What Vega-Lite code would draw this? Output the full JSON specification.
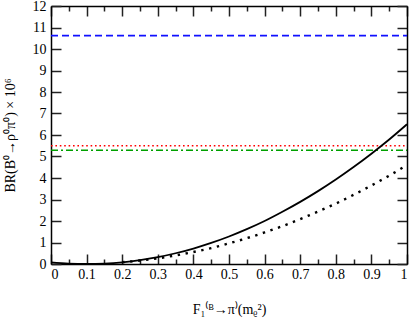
{
  "$schema": "https://vega.github.io/schema/vega-lite/v6.json",
  "width": 356,
  "height": 258,
  "autosize": {"type": "none"},
  "padding": {"left": 51, "top": 6, "right": 4, "bottom": 54},
  "background": "white",
  "config": {
    "view": {"stroke": null},
    "font": "Liberation Serif",
    "axis": {
      "labelFont": "Liberation Serif",
      "titleFont": "Liberation Serif",
      "labelFontSize": 14,
      "titleFontSize": 14,
      "labelColor": "black",
      "titleColor": "black",
      "titleFontWeight": "normal",
      "domainColor": "black",
      "domainWidth": 1.5,
      "grid": false
    }
  },
  "datasets": {
    "solid": [
      {"x": 0, "y": 0.08}, {"x": 0.05, "y": 0.02}, {"x": 0.1, "y": 0.0}, {"x": 0.15, "y": 0.02},
      {"x": 0.2, "y": 0.08}, {"x": 0.25, "y": 0.18}, {"x": 0.3, "y": 0.32}, {"x": 0.35, "y": 0.5},
      {"x": 0.4, "y": 0.72}, {"x": 0.45, "y": 0.98}, {"x": 0.5, "y": 1.28}, {"x": 0.55, "y": 1.62},
      {"x": 0.6, "y": 2.0}, {"x": 0.65, "y": 2.43}, {"x": 0.7, "y": 2.89}, {"x": 0.75, "y": 3.39},
      {"x": 0.8, "y": 3.93}, {"x": 0.85, "y": 4.51}, {"x": 0.9, "y": 5.13}, {"x": 0.95, "y": 5.79},
      {"x": 1.0, "y": 6.5}
    ],
    "dotted": [
      {"x": 0.2, "y": 0.08}, {"x": 0.25, "y": 0.16}, {"x": 0.3, "y": 0.26}, {"x": 0.35, "y": 0.4},
      {"x": 0.4, "y": 0.56}, {"x": 0.45, "y": 0.74}, {"x": 0.5, "y": 0.96}, {"x": 0.55, "y": 1.2},
      {"x": 0.6, "y": 1.47}, {"x": 0.65, "y": 1.76}, {"x": 0.7, "y": 2.09}, {"x": 0.75, "y": 2.44},
      {"x": 0.8, "y": 2.81}, {"x": 0.85, "y": 3.22}, {"x": 0.9, "y": 3.65}, {"x": 0.95, "y": 4.11},
      {"x": 1.0, "y": 4.6}
    ],
    "blue": [{"x": 0, "y": 10.62}, {"x": 1, "y": 10.62}],
    "red": [{"x": 0, "y": 5.5}, {"x": 1, "y": 5.5}],
    "green": [{"x": 0, "y": 5.29}, {"x": 1, "y": 5.29}]
  },
  "resolve": {"axis": {"x": "independent", "y": "independent"}},
  "layer": [
    {
      "data": {"name": "blue"},
      "mark": {"type": "line", "color": "#1010ff", "strokeWidth": 1.6, "strokeDash": [7, 4]},
      "encoding": {
        "x": {"field": "x", "type": "quantitative", "scale": {"domain": [0, 1], "nice": false},
              "axis": {"orient": "bottom", "values": [0.05, 0.15, 0.25, 0.35, 0.45, 0.55, 0.65, 0.75, 0.85, 0.95], "ticks": true, "tickColor": "#222222", "tickWidth": 1.5, "tickSize": -5, "domain": false, "labels": false, "title": null}},
        "y": {"field": "y", "type": "quantitative", "scale": {"domain": [0, 12], "nice": false},
              "axis": {"orient": "left", "values": [0, 1, 2, 3, 4, 5, 6, 7, 8, 9, 10, 11, 12], "ticks": true, "tickColor": "#222222", "tickWidth": 1.5, "tickSize": -10, "domain": false, "labels": false, "title": null}}
      }
    },
    {
      "data": {"name": "red"},
      "mark": {"type": "line", "color": "#ff0000", "strokeWidth": 1.6, "strokeDash": [1.6, 2.8]},
      "encoding": {
        "x": {"field": "x", "type": "quantitative", "scale": {"domain": [0, 1], "nice": false},
              "axis": {"orient": "top", "values": [0.05, 0.15, 0.25, 0.35, 0.45, 0.55, 0.65, 0.75, 0.85, 0.95], "ticks": true, "tickColor": "#222222", "tickWidth": 1.5, "tickSize": -5, "domain": false, "labels": false, "title": null}},
        "y": {"field": "y", "type": "quantitative", "scale": {"domain": [0, 12], "nice": false},
              "axis": {"orient": "right", "values": [0, 1, 2, 3, 4, 5, 6, 7, 8, 9, 10, 11, 12], "ticks": true, "tickColor": "#222222", "tickWidth": 1.5, "tickSize": -10, "domain": true, "labels": false, "title": null}}
      }
    },
    {
      "data": {"name": "green"},
      "mark": {"type": "line", "color": "#00a000", "strokeWidth": 1.6, "strokeDash": [7, 3, 2, 3]},
      "encoding": {
        "x": {"field": "x", "type": "quantitative", "scale": {"domain": [0, 1], "nice": false},
              "axis": {"orient": "top", "values": [0, 0.1, 0.2, 0.3, 0.4, 0.5, 0.6, 0.7, 0.8, 0.9, 1], "ticks": true, "tickColor": "#222222", "tickWidth": 1.5, "tickSize": -10, "domain": true, "labels": false, "title": null}},
        "y": {"field": "y", "type": "quantitative", "scale": {"domain": [0, 12], "nice": false}, "axis": null}
      }
    },
    {
      "data": {"name": "dotted"},
      "mark": {"type": "line", "color": "black", "strokeWidth": 2.4, "strokeDash": [2.4, 5.6], "interpolate": "monotone"},
      "encoding": {
        "x": {"field": "x", "type": "quantitative", "scale": {"domain": [0, 1], "nice": false}, "axis": null},
        "y": {"field": "y", "type": "quantitative", "scale": {"domain": [0, 12], "nice": false}, "axis": null}
      }
    },
    {
      "data": {"name": "solid"},
      "mark": {"type": "line", "color": "black", "strokeWidth": 1.8, "interpolate": "monotone"},
      "encoding": {
        "x": {"field": "x", "type": "quantitative", "scale": {"domain": [0, 1], "nice": false},
              "axis": {"orient": "bottom", "values": [0, 0.1, 0.2, 0.3, 0.4, 0.5, 0.6, 0.7, 0.8, 0.9, 1], "format": "~g", "ticks": true, "tickColor": "#222222", "tickWidth": 1.5, "tickSize": -10, "labelPadding": 13, "title": "F₁⁽ᴮ→π⁾(mᵨ²)", "titlePadding": 21}},
        "y": {"field": "y", "type": "quantitative", "scale": {"domain": [0, 12], "nice": false},
              "axis": {"orient": "left", "values": [0, 1, 2, 3, 4, 5, 6, 7, 8, 9, 10, 11, 12], "ticks": false, "labelPadding": 5, "title": "BR(B⁰→ρ⁰π⁰) × 10⁶", "titlePadding": 15}}
      }
    }
  ]
}
